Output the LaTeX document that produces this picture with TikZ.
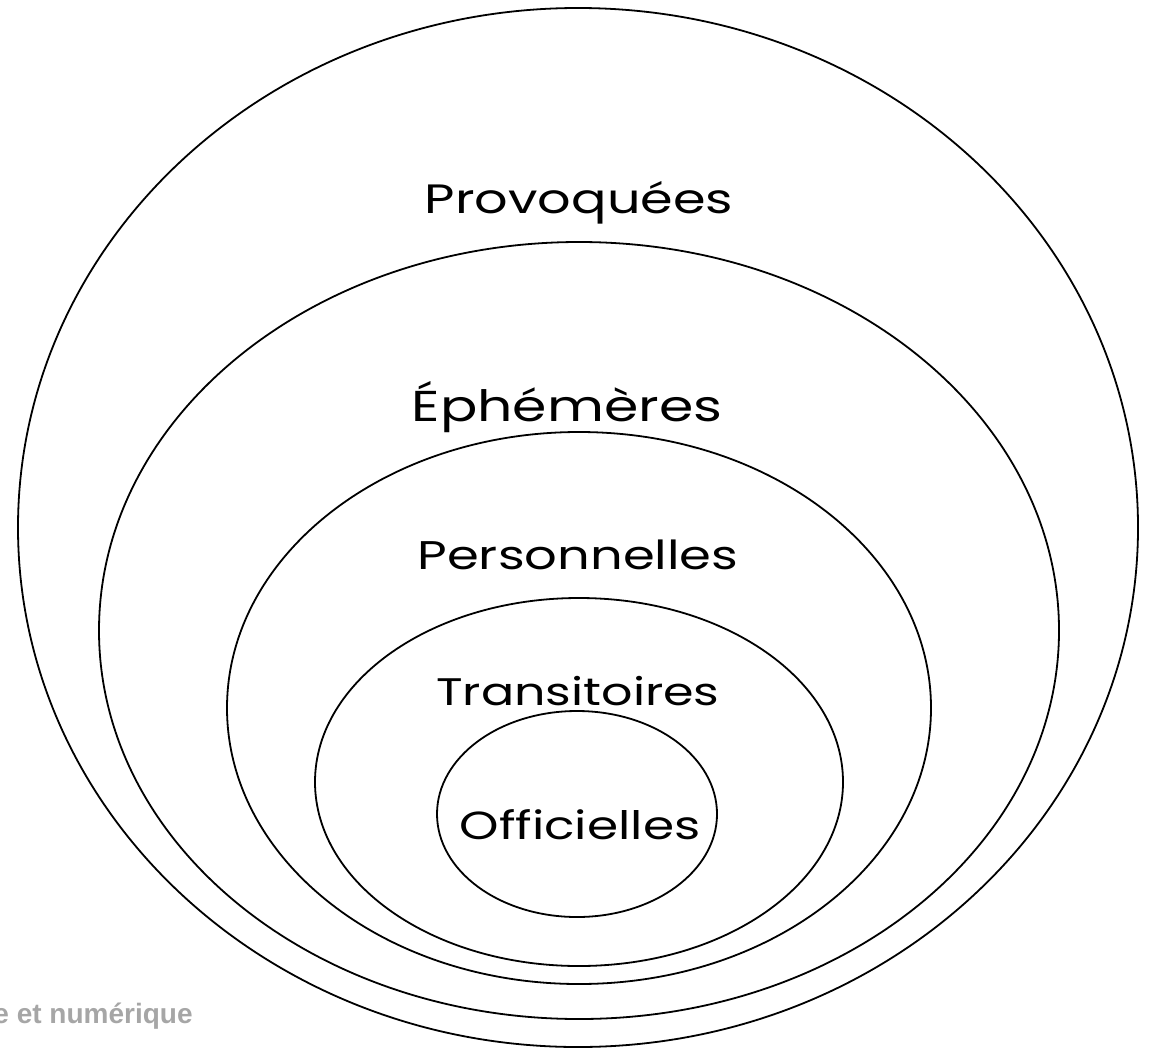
\documentclass[tikz,border=0pt]{standalone}
\usepackage{fontspec}
\setmainfont{Poppins}[FakeStretch=1.28]
\newfontfamily\notefont{Liberation Sans}
\definecolor{notegray}{HTML}{A6A6A6}
\tikzset{ring/.style={draw, line width=0.9pt},
level text/.style={font=\fontsize{#1}{24}\selectfont, anchor=base},
level text/.default=20.5,
note text/.style={font=\notefont\bfseries\fontsize{14}{16}\selectfont, text=notegray, anchor=base east, inner sep=0pt}
}

\begin{document}
\begin{tikzpicture}[x=0.5pt, y=-0.5pt]
  \useasboundingbox (0,0) rectangle (1149,1049);
  % nested circles of documents
  \draw[ring] (578,527.5) ellipse [x radius=280pt, y radius=259.75pt];
  \draw[ring] (579,630.5) ellipse [x radius=240pt, y radius=194.25pt];
  \draw[ring] (579,708)   ellipse [x radius=176pt, y radius=138pt];
  \draw[ring] (579,782)   ellipse [x radius=132pt, y radius=92pt];
  \draw[ring] (577,814)   ellipse [x radius=70pt,  y radius=51.5pt];

  \node[level text]       (provoquees)   at (579,213) {Provoquées};
  \node[level text=21.6]  (ephemeres)    at (567,421) {Éphémères};
  \node[level text=20]    (personnelles) at (578,569) {Personnelles};
  \node[level text=19.2]  (transitoires) at (578,705) {Transitoires};
  \node[level text=19.6]  (officielles)  at (580,839) {Officielles};

  \node[note text] (source) at (193,1023) {e et numérique};
\end{tikzpicture}
\end{document}
